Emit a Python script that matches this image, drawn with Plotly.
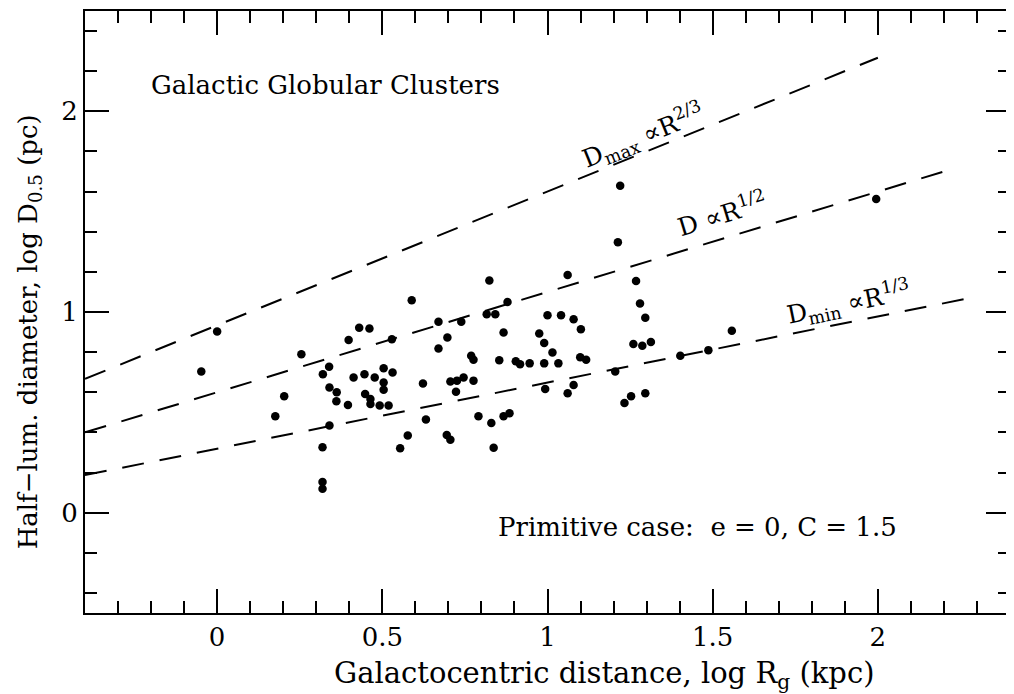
import plotly.graph_objects as go

# Globular cluster data: log Rg (kpc) vs log D0.5 (pc)
log_rg = [0.000, -0.048, 0.255, 0.203, 0.176, 0.320, 0.339, 0.340, 0.362, 0.361,
          0.396, 0.340, 0.319, 0.319, 0.319, 0.398, 0.430, 0.461, 0.529, 0.589,
          0.413, 0.446, 0.477, 0.504, 0.531, 0.504, 0.504, 0.448, 0.464, 0.464,
          0.492, 0.519, 0.623, 0.632, 0.577, 0.554, 0.670, 0.697, 0.670, 0.739,
          0.769, 0.776, 0.706, 0.726, 0.746, 0.776, 0.723, 0.695, 0.706, 0.791,
          0.830, 0.867, 0.885, 0.837, 0.824, 0.879, 0.816, 0.842, 0.867, 0.854,
          0.904, 0.917, 0.946, 1.061, 1.000, 1.041, 1.079, 1.101, 0.975, 0.990,
          1.015, 0.990, 1.033, 1.099, 1.117, 0.993, 1.079, 1.061, 1.268, 1.280,
          1.296, 1.260, 1.287, 1.313, 1.205, 1.253, 1.233, 1.296, 1.220, 1.213,
          1.995, 1.402, 1.487, 1.558]
log_d = [0.903, 0.704, 0.790, 0.580, 0.480, 0.690, 0.727, 0.624, 0.600, 0.555,
         0.537, 0.434, 0.326, 0.153, 0.119, 0.861, 0.922, 0.918, 0.864, 1.058,
         0.674, 0.690, 0.674, 0.720, 0.699, 0.649, 0.613, 0.591, 0.566, 0.541,
         0.534, 0.534, 0.644, 0.464, 0.385, 0.321, 0.951, 0.873, 0.818, 0.951,
         0.782, 0.762, 0.654, 0.658, 0.674, 0.658, 0.603, 0.387, 0.363, 0.480,
         0.447, 0.480, 0.496, 0.323, 1.157, 1.050, 0.989, 0.989, 0.898, 0.760,
         0.754, 0.740, 0.744, 1.184, 0.984, 0.984, 0.964, 0.914, 0.893, 0.845,
         0.798, 0.744, 0.744, 0.774, 0.762, 0.616, 0.636, 0.595, 1.154, 1.042,
         0.971, 0.840, 0.832, 0.851, 0.704, 0.580, 0.546, 0.595, 1.629, 1.348,
         1.563, 0.782, 0.810, 0.906]

# Model lines (end points)
dmax_x = [-0.4, 2.0]
dmax_y = [0.667, 2.267]
dmid_x = [-0.4, 2.2]
dmid_y = [0.400, 1.700]
dmin_x = [-0.4, 2.28]
dmin_y = [0.187, 1.070]

x_ticks = [0, 0.5, 1, 1.5, 2]
x_ticklabels = ["0", "0.5", "1", "1.5", "2"]
y_ticks = [0, 1, 2]
y_ticklabels = ["0", "1", "2"]

FONT = "DejaVu Serif"
dash = "22px,16px"

fig = go.Figure()
for lx, ly in [(dmax_x, dmax_y), (dmid_x, dmid_y), (dmin_x, dmin_y)]:
    fig.add_trace(go.Scatter(x=lx, y=ly, mode="lines",
                             line=dict(color="black", width=2, dash=dash),
                             showlegend=False, hoverinfo="skip"))

fig.add_trace(go.Scatter(x=log_rg, y=log_d, mode="markers",
                         marker=dict(color="black", size=8.5),
                         showlegend=False))

axis_common = dict(showgrid=False, zeroline=False, showline=True,
                   linecolor="black", linewidth=2, mirror="ticks",
                   ticks="inside", tickcolor="black", tickwidth=2, ticklen=24,
                   tickfont=dict(family=FONT, size=26, color="black"))

fig.update_xaxes(range=[-0.4, 2.4], tickmode="array", tickvals=x_ticks,
                 ticktext=x_ticklabels,
                 minor=dict(dtick=0.1, tick0=0, ticks="inside", ticklen=12,
                            tickwidth=2, tickcolor="black"),
                 **axis_common)
fig.update_yaxes(range=[-0.5, 2.5], tickmode="array", tickvals=y_ticks,
                 ticktext=y_ticklabels,
                 minor=dict(dtick=0.2, tick0=0, ticks="inside", ticklen=12,
                            tickwidth=2, tickcolor="black"),
                 **axis_common)

lab_font = dict(family=FONT, size=25, color="black")
annotations = [
    dict(x=-0.207, y=2.13, xref="x", yref="y", xanchor="left", yanchor="middle",
         text="Galactic Globular Clusters", showarrow=False,
         font=dict(family=FONT, size=26, color="black")),
    dict(x=0.843, y=-0.071, xref="x", yref="y", xanchor="left", yanchor="middle",
         text="Primitive case:  e = 0, C = 1.5", showarrow=False,
         font=dict(family=FONT, size=26, color="black")),
    dict(x=1.29, y=1.876, xref="x", yref="y", textangle=-22,
         text="D<sub>max</sub> ∝R<sup>2/3</sup>", showarrow=False, font=lab_font),
    dict(x=1.527, y=1.493, xref="x", yref="y", textangle=-17,
         text="D ∝R<sup>1/2</sup>", showarrow=False, font=lab_font),
    dict(x=1.911, y=1.045, xref="x", yref="y", textangle=-11.5,
         text="D<sub>min</sub> ∝R<sup>1/3</sup>", showarrow=False, font=lab_font),
    dict(x=0.561, y=-0.103, xref="paper", yref="paper", xanchor="center",
         yanchor="middle", showarrow=False,
         text="Galactocentric distance, log R<sub>g</sub> (kpc)",
         font=dict(family=FONT, size=29, color="black")),
    dict(x=-0.060, y=0.467, xref="paper", yref="paper", xanchor="center",
         yanchor="middle", showarrow=False, textangle=-90,
         text="Half−lum. diameter, log D<sub>0.5</sub> (pc)",
         font=dict(family=FONT, size=26, color="black")),
]

# The page body adds an 8px offset, so the figure is sized to fit the window.
fig.update_layout(width=1006, height=687,
                  margin=dict(l=77, r=4, t=1, b=82),
                  paper_bgcolor="white", plot_bgcolor="white",
                  annotations=annotations, showlegend=False)

fig.write_html("out.html")
